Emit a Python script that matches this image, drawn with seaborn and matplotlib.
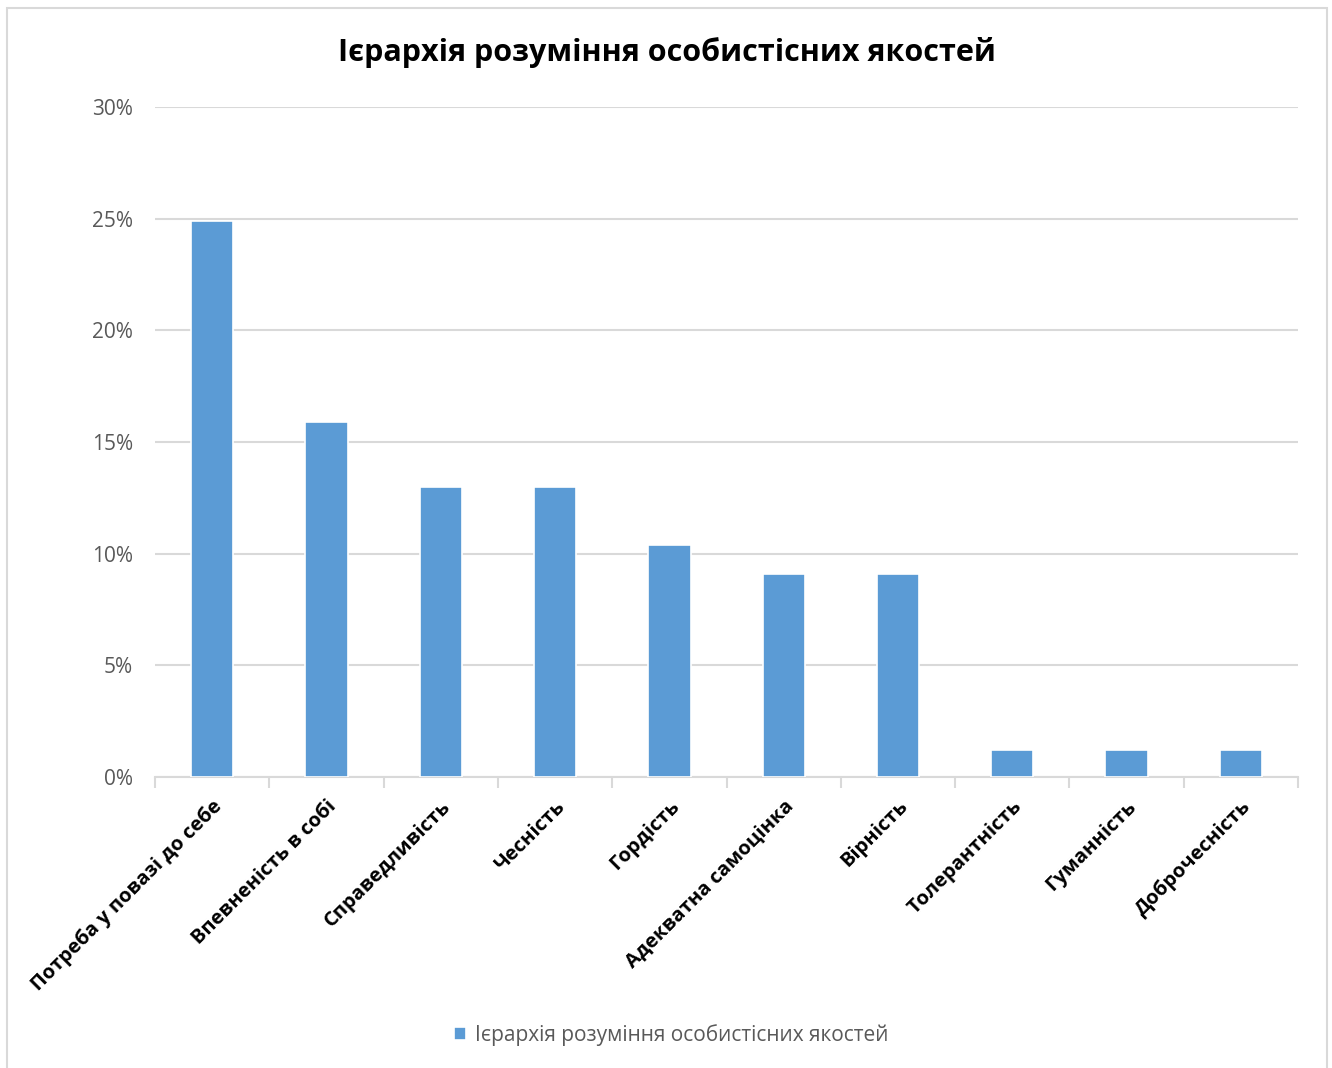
import matplotlib.pyplot as plt
import numpy as np
import pandas as pd
import seaborn as sns
from matplotlib.patches import Rectangle
from matplotlib.ticker import PercentFormatter

sns.set_theme(style="white")
plt.rcParams['font.family'] = ['Open Sans', 'DejaVu Sans']

# --- data ---
qualities = ['Потреба у повазі до себе', 'Впевненість в собі', 'Справедливість',
             'Чесність', 'Гордість', 'Адекватна самоцінка', 'Вірність',
             'Толерантність', 'Гуманність', 'Доброчесність']
shares = [24.9, 15.9, 13.0, 13.0, 10.4, 9.1, 9.1, 1.2, 1.2, 1.2]
series_name = 'Ієрархія розуміння особистісних якостей'

df = pd.DataFrame({'quality': qualities, 'share': shares})

bar_color = '#5B9BD5'
grid_color = '#D9D9D9'
text_gray = '#595959'

fig = plt.figure(figsize=(13.32, 10.68), dpi=100)
ax = fig.add_axes([0.1164, 0.2725, 0.8581, 0.6273])

sns.barplot(data=df, x='quality', y='share', color=bar_color, saturation=1,
            width=0.37, edgecolor='white', linewidth=1.2, label=series_name,
            ax=ax, zorder=3)

ax.set_ylim(0, 30)
ax.set_xlim(-0.5, len(qualities) - 0.5)
ax.set_yticks(np.arange(0, 31, 5))
ax.yaxis.set_major_formatter(PercentFormatter(decimals=0))
ax.yaxis.grid(True, color=grid_color, linewidth=1.5, zorder=0)
ax.set_axisbelow(True)
ax.set_xlabel('')
ax.set_ylabel('')

for side in ['top', 'right', 'left']:
    ax.spines[side].set_visible(False)
ax.spines['bottom'].set_color(grid_color)
ax.spines['bottom'].set_linewidth(1.5)

# ticks at category boundaries
ax.set_xticks(np.arange(-0.5, len(qualities), 1.0), minor=True)
ax.tick_params(axis='x', which='minor', length=8, width=1.5, color=grid_color, bottom=True)
ax.tick_params(axis='x', which='major', length=0, pad=14)
ax.tick_params(axis='y', length=0, pad=16, labelsize=15, labelcolor=text_gray)

ax.set_xticks(range(len(qualities)))
ax.set_xticklabels(qualities, rotation=45, ha='right', va='top',
                   rotation_mode='anchor', fontsize=14.5, fontweight='bold', color='black')

fig.suptitle('Ієрархія розуміння особистісних якостей', x=0.501, y=0.965,
             fontsize=22, fontweight='bold', color='black')

ax.legend(loc='center', bbox_to_anchor=(0.504, 0.031), bbox_transform=fig.transFigure,
          frameon=False, fontsize=15, labelcolor=text_gray, handlelength=0.55,
          handleheight=0.55, handletextpad=0.45)

# chart border
fig.patches.append(Rectangle((7 / 1332, -0.01), 1320 / 1332, 1.01 - 8 / 1068,
                             transform=fig.transFigure, fill=False,
                             edgecolor=grid_color, linewidth=1.5))

fig.savefig('out.png', dpi=100)
